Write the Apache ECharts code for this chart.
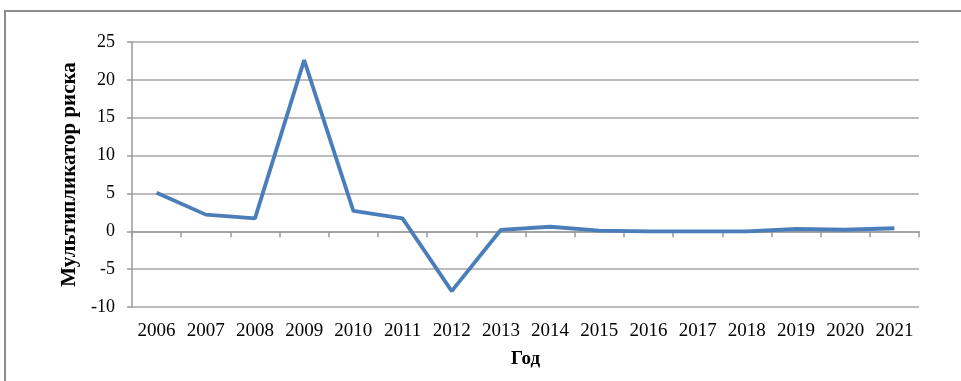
<!DOCTYPE html>
<html>
<head>
<meta charset="utf-8">
<script src="https://cdn.jsdelivr.net/npm/echarts@6/dist/echarts.min.js"></script>
<style>html,body{margin:0;padding:0;background:#fff}#c{width:961px;height:381px}</style>
</head>
<body>
<div id="c"></div>
<script>
var years = ['2006','2007','2008','2009','2010','2011','2012','2013','2014','2015','2016','2017','2018','2019','2020','2021'];
var riskMultiplier = [5.1, 2.2, 1.7, 22.6, 2.7, 1.7, -7.9, 0.2, 0.6, 0.1, 0.0, 0.0, 0.0, 0.3, 0.2, 0.4];
var yTitle = 'Мультипликатор риска';
var xTitle = 'Год';

var chart = echarts.init(document.getElementById('c'), null, {renderer: 'canvas'});
var font = '"Liberation Serif", "Times New Roman", serif';
chart.setOption({
  animation: false,
  backgroundColor: '#fff',
  graphic: [{
    type: 'rect',
    shape: {x: 5, y: 11, width: 970, height: 390},
    style: {fill: 'none', stroke: '#8c8c8c', lineWidth: 2},
    silent: true
  }],
  grid: {left: 132, right: 42, top: 42, bottom: 74},
  xAxis: [{
    type: 'category',
    data: years,
    boundaryGap: true,
    axisLine: {onZero: true, lineStyle: {color: '#9a9a9a', width: 1.5}},
    axisTick: {show: true, length: 6, lineStyle: {color: '#9a9a9a', width: 1.5}},
    axisLabel: {show: false}
  }, {
    type: 'category',
    data: years,
    position: 'bottom',
    boundaryGap: true,
    axisLine: {show: false},
    axisTick: {show: false},
    axisLabel: {color: '#000', fontFamily: font, fontSize: 19, margin: 15, interval: 0, hideOverlap: false},
    name: xTitle,
    nameLocation: 'middle',
    nameGap: 43,
    nameTextStyle: {color: '#000', fontFamily: font, fontSize: 19, fontWeight: 'bold'}
  }],
  yAxis: {
    type: 'value',
    min: -10, max: 25, interval: 5,
    axisLine: {show: true, lineStyle: {color: '#9a9a9a', width: 1.5}},
    axisTick: {show: true, length: 5, lineStyle: {color: '#9a9a9a', width: 1.5}},
    splitLine: {lineStyle: {color: '#a6a6a6', width: 1.5}},
    axisLabel: {color: '#000', fontFamily: font, fontSize: 18, margin: 17},
    name: yTitle,
    nameLocation: 'middle',
    nameGap: 49,
    nameRotate: 90,
    nameTextStyle: {color: '#000', fontFamily: font, fontSize: 21, fontWeight: 'bold'}
  },
  series: [{
    type: 'line',
    xAxisIndex: 0,
    data: riskMultiplier,
    symbol: 'none',
    smooth: false,
    lineStyle: {color: '#4a7ebb', width: 3.8},
    itemStyle: {color: '#4a7ebb'}
  }]
});
</script>
</body>
</html>
